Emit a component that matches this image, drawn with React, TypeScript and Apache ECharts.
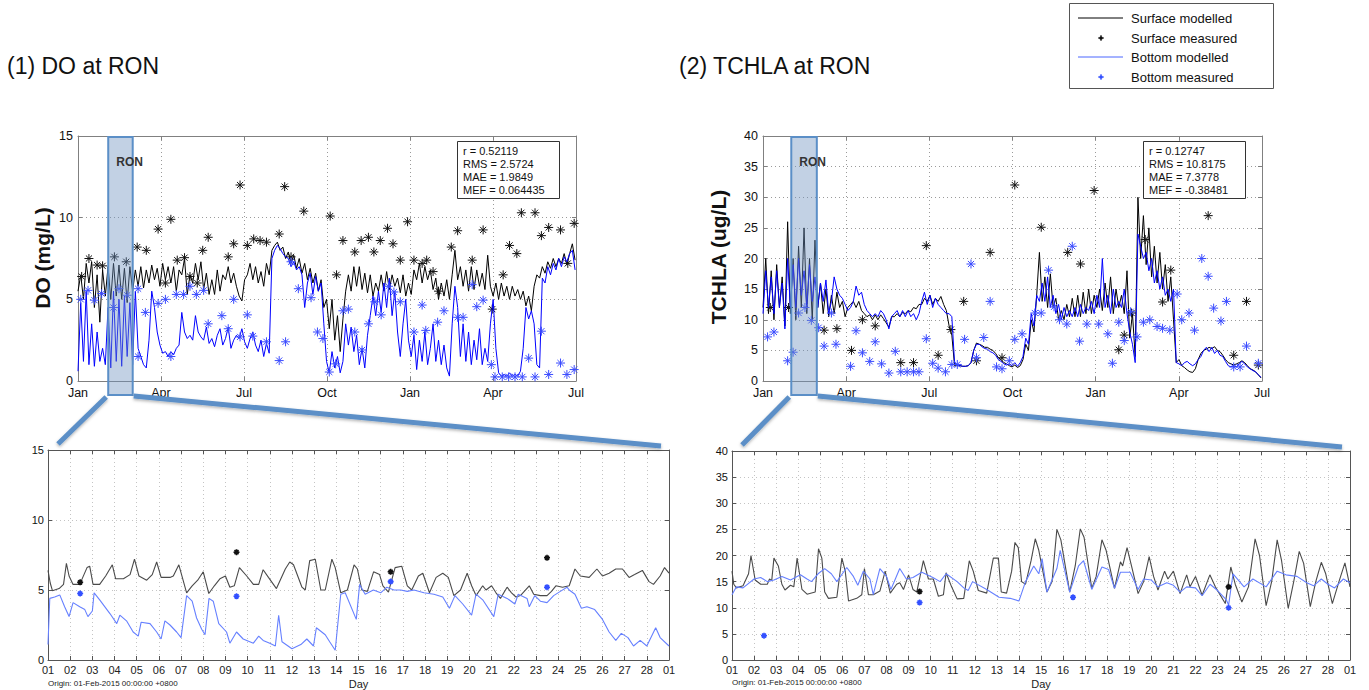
import React, { useEffect, useRef } from 'react';
import * as echarts from 'echarts';

// ---------------- DATA ----------------
// Top panels: day index from 01-Jan-2015 (one value every TOP_STEP days) to 01-Jul-2016
const TOP_SPAN_DAYS = 547;
const TOP_STEP = 3;
const TOP_TICKS = ['Jan', 'Apr', 'Jul', 'Oct', 'Jan', 'Apr', 'Jul'];
const RON_START_DAY = 31; // 01-Feb-2015
const RON_END_DAY = 59; // 01-Mar-2015

const DO_SURF_MODEL = [
  5.5, 6.5, 5.0, 7.2, 6.0, 7.3, 4.5, 6.5, 3.6, 6.8,
  5.2, 7.0, 5.0, 7.2, 5.2, 7.1, 5.0, 6.9, 4.8, 7.0,
  5.5, 6.8, 5.8, 7.0, 5.7, 6.8, 6.0, 7.1, 6.2, 6.9,
  5.8, 7.2, 6.2, 7.0, 6.0, 7.0, 5.5, 6.8, 6.5, 7.5,
  5.3, 6.5, 6.0, 7.2, 6.2, 7.3, 5.6, 6.6, 5.3, 6.2,
  5.3, 6.8, 5.5, 6.5, 6.2, 7.0, 6.0, 6.6, 5.8, 5.2,
  4.9, 6.2, 6.5, 7.2, 6.2, 7.0, 6.0, 6.7, 5.8, 7.2,
  6.5, 8.0, 8.3, 8.5, 8.0, 8.2, 7.5, 7.9, 7.2, 7.7,
  6.9, 7.5, 6.6, 7.2, 6.2, 6.9, 6.0, 6.6, 5.5, 6.2,
  4.5, 5.0, 3.2, 5.0, 2.5, 4.0, 1.8, 3.8, 5.5, 6.5,
  5.5, 7.0, 5.8, 7.0, 5.6, 6.6, 5.4, 6.5, 5.2, 6.0,
  5.5, 6.5, 5.5, 6.7, 5.6, 6.5, 5.8, 6.3, 5.4, 6.5,
  5.2, 6.0, 5.3, 6.8, 6.2, 7.2, 6.0, 7.0, 6.2, 6.8,
  5.6, 6.3, 5.0, 6.0, 5.2, 6.2, 5.0, 6.5, 8.0, 6.2,
  7.0, 5.8, 6.8, 5.5, 7.0, 5.6, 6.8, 5.8, 6.6, 5.6,
  7.7, 5.8, 5.2, 6.0, 5.0, 6.0, 5.2, 5.8, 5.0, 5.8,
  5.2, 5.6, 5.0, 5.5, 4.6, 5.2, 4.3, 5.8, 6.5, 6.3,
  7.0, 6.6, 7.3, 6.9, 7.5, 7.0, 7.5, 7.2, 7.8, 7.1,
  7.8, 8.4, 7.4,
];

const DO_BOT_MODEL = [
  0.6, 4.8, 1.2, 5.5, 1.0, 3.5, 0.9, 3.0, 1.2, 2.0,
  1.0, 4.5, 0.8, 5.5, 1.2, 5.0, 0.9, 5.2, 1.5, 4.8,
  1.0, 5.5, 2.0, 1.5, 1.0, 0.8, 2.5, 5.5, 4.5, 3.0,
  2.2, 1.7, 1.8, 1.5, 1.8, 1.6, 2.0, 2.2, 4.2, 3.0,
  2.6, 2.8, 2.5, 4.0, 3.0, 2.7, 2.5, 3.3, 2.3, 2.6,
  2.1, 2.8, 3.2, 2.2, 2.6, 3.3, 2.0, 2.5, 2.8, 2.6,
  3.2, 2.4, 2.0, 2.6, 3.0, 2.2, 1.8, 2.5, 1.5, 2.3,
  1.7, 7.5, 8.0, 8.3, 8.1, 7.8, 7.6, 7.5, 7.0, 7.3,
  6.8, 7.0, 6.5, 4.5, 6.0, 6.6, 5.3, 6.4, 5.5, 6.0,
  3.5, 1.2, 0.5, 1.8, 0.8, 1.5, 0.5, 1.2, 3.5, 2.2,
  3.3, 1.8, 2.8, 1.0, 2.0, 0.8, 2.8, 4.0, 5.2, 4.0,
  5.5, 4.2, 6.0, 4.5, 6.3, 4.0, 5.5, 3.0, 1.5, 3.5,
  5.0, 2.5, 1.5, 2.8, 0.7, 2.5, 1.2, 3.0, 1.0, 2.0,
  3.5, 1.2, 2.5, 1.0, 2.2, 0.8, 0.3, 3.5, 5.8, 4.5,
  1.5, 3.5, 1.2, 3.0, 1.0, 2.5, 1.3, 3.2, 1.0, 2.0,
  1.2, 3.5, 5.0, 2.0, 0.5, 0.3, 0.4, 0.3, 0.5, 0.3,
  0.4, 0.3, 0.6, 2.0, 4.5, 3.8, 4.3, 3.5, 1.0, 0.8,
  6.3, 6.0, 7.0, 6.5, 7.2, 6.8, 7.5, 7.0, 7.6, 7.3,
  7.8, 8.0, 6.8,
];

const TCHLA_SURF_MODEL = [
  12, 20, 11, 18, 10, 19, 12, 17, 9, 26,
  11, 20, 10, 22, 12, 25, 11, 20, 10, 23,
  12, 16, 11, 15, 10.5, 14, 11, 14.5, 12, 13,
  10.5, 12, 12.5, 13, 12, 13, 11.5, 11, 10.5, 10.8,
  10, 10.8, 10, 10.8, 10.2, 9.5, 8.8, 10.5, 10.5, 11,
  10.5, 11.2, 11, 11.5, 11.3, 12, 11.8, 12.5, 12.5, 13.5,
  13, 14, 12.5, 13.5, 13, 13.8, 12.5, 11.5, 9, 7.5,
  2.5, 2.5, 2.5, 2.4, 2.4, 2.5, 3, 5, 6.2, 6,
  5.8, 5.5, 5.5, 5.2, 5.0, 4.5, 3.8, 3.5, 3.0, 2.8,
  2.5, 2.3, 2.6, 2.2, 2.5, 3.5, 6, 5, 10, 8,
  14, 21, 13, 17, 12, 17.5, 12, 13.5, 10, 11.5,
  10, 12.5, 10.5, 13.5, 10.5, 14, 10.5, 14.5, 11, 15,
  11, 14, 12, 15, 11.5, 16, 12, 17, 11, 15,
  12, 14, 11, 18, 7, 11, 4, 30, 20, 27,
  19, 25, 17, 22, 16, 21, 15, 19, 13, 17,
  10, 3, 3.5, 2.5, 2.2, 1.8, 1.5, 1.4, 2, 3.5,
  4.5, 5, 5.2, 5.5, 5.3, 5.6, 5, 4.8, 4.2, 3.5,
  3, 2.8, 2.6, 2.8, 3.0, 3.3, 3.0, 2.5, 2.0, 1.8,
  1.5, 1.0, 0.5,
];

const TCHLA_BOT_MODEL = [
  11, 18, 12, 17, 11, 18, 12, 16, 8.5, 20,
  12, 19, 12, 20, 14, 18, 12, 19, 13, 17,
  12, 16, 13, 16.5, 11, 13, 17, 15, 14, 13.5,
  12.5, 11.5, 12, 13, 15.5, 14, 14.5, 12.5, 11.5, 11,
  10.5, 11, 10.5, 11.5, 11, 10, 8.5, 10.5, 11, 11.5,
  10.5, 11.5, 10.5, 11.5, 10.5, 11, 10, 11, 13, 14.5,
  12.5, 14, 12, 13.5, 12.5, 12, 11.5, 11, 11, 10.5,
  3, 2.5, 2.5, 2.4, 2.4, 2.5, 3, 5, 6, 6,
  5.6, 5.3, 5.2, 4.8, 4.6, 4.2, 3.5, 3.2, 2.8, 2.6,
  2.8, 2.5, 3, 2.4, 3, 4, 7, 6, 11, 9,
  14, 13, 16, 13, 17, 12, 14, 11, 12.5, 10,
  12, 10.5, 11.5, 10.5, 12, 10.5, 12.5, 11, 12, 11.5,
  13, 11, 14, 12, 20, 12, 14, 11, 15, 12,
  13, 12, 15, 11, 8, 6, 3, 24, 22, 20,
  21, 18, 20, 16, 18, 15, 17, 14, 15, 13,
  15, 3, 2.8, 2.5, 3.0, 3.2, 2.8, 2.5, 2.8, 3.5,
  4.0, 5.0, 5.5, 4.8, 5.5, 4.5, 5.0, 4.2, 4.0, 3.2,
  2.5, 2.3, 2.5, 2.3, 2.8, 3.2, 2.8, 2.3, 2.0, 1.7,
  1.5, 1.0, 0.6,
];

// measured points [day, value]
const DO_SURF_MEAS = [
  [4, 6.4], [12, 7.5], [21, 7.1], [27, 7.05], [40, 7.6], [53, 7.3], [65, 8.2], [75, 8.0], [88, 9.3], [96, 6.0],
  [102, 9.9], [109, 7.4], [117, 7.55], [123, 6.4], [131, 6.0], [137, 8.0], [143, 8.8], [165, 7.6], [171, 8.4], [178, 12.0],
  [186, 8.3], [193, 8.7], [200, 8.6], [207, 8.5], [221, 9.0], [227, 11.9], [234, 7.6], [248, 10.4], [277, 10.1], [284, 6.5],
  [291, 8.6], [304, 7.9], [311, 8.6], [319, 8.8], [325, 7.9], [332, 8.6], [340, 9.35], [346, 8.4], [354, 7.4], [362, 9.75],
  [369, 7.4], [378, 7.2], [383, 7.4], [390, 6.7], [396, 5.5], [410, 8.2], [417, 9.2], [433, 7.4], [445, 9.25], [455, 4.4],
  [467, 6.5], [474, 8.3], [482, 7.8], [487, 10.3], [502, 10.3], [509, 8.9], [517, 9.4], [530, 9.25], [538, 7.2], [545, 9.65],
];
const DO_BOT_MEAS = [
  [3, 5.0], [11, 5.55], [18, 4.95], [26, 5.35], [39, 4.5], [45, 5.65], [54, 5.25], [66, 5.65], [66, 1.5], [74, 4.2],
  [88, 4.75], [96, 5.0], [102, 1.5], [108, 5.3], [116, 5.3], [123, 5.8], [130, 5.3], [138, 5.55], [143, 3.5], [158, 4.0],
  [165, 3.2], [171, 5.0], [178, 2.7], [186, 4.05], [192, 2.75], [207, 2.4], [221, 1.25], [228, 2.4], [234, 7.3], [242, 5.65],
  [256, 5.1], [263, 3.0], [269, 2.6], [276, 0.55], [283, 1.05], [291, 4.3], [297, 4.4], [304, 3.0], [312, 1.9], [319, 3.5],
  [326, 4.85], [333, 4.05], [341, 5.8], [347, 5.45], [354, 4.85], [369, 3.0], [378, 4.65], [382, 3.1], [395, 3.6], [402, 4.3],
  [417, 3.9], [423, 3.9], [433, 5.9], [438, 4.55], [445, 4.95], [454, 1.0], [458, 0.25], [466, 0.25], [473, 0.25], [480, 0.25],
  [488, 0.25], [495, 1.4], [502, 0.25], [509, 3.05], [517, 0.4], [530, 1.1], [537, 0.4], [545, 0.7],
];
const TCHLA_SURF_MEAS = [
  [8, 12.0], [28, 12.0], [67, 8.3], [81, 8.55], [97, 5.0], [109, 10.0], [123, 9.0], [151, 3.0], [165, 3.0], [179, 22.1],
  [192, 4.2], [206, 8.4], [220, 13.0], [234, 3.3], [249, 21.0], [262, 3.8], [276, 32.0], [305, 25.1], [334, 21.0], [348, 19.1],
  [363, 31.1], [390, 5.1], [396, 7.5], [404, 11.1], [419, 23.1], [438, 12.9], [447, 18.1], [488, 27.0], [516, 4.2], [530, 13.0],
  [543, 2.6],
];
const TCHLA_BOT_MEAS = [
  [5, 7.2], [12, 8.0], [27, 3.3], [33, 4.7], [39, 11.1], [46, 12.0], [53, 9.9], [61, 8.7], [67, 5.7], [75, 11.1],
  [80, 6.0], [96, 2.4], [102, 8.2], [109, 4.6], [117, 3.2], [123, 6.4], [130, 2.8], [138, 1.3], [145, 4.85], [151, 1.5],
  [158, 1.5], [165, 1.5], [171, 1.5], [179, 6.9], [186, 2.9], [192, 2.1], [200, 1.5], [207, 2.7], [213, 2.7], [221, 6.8],
  [228, 19.1], [234, 3.8], [242, 7.1], [249, 13.0], [256, 2.3], [262, 2.0], [270, 3.3], [276, 6.8], [284, 7.7], [298, 11.1],
  [305, 11.1], [313, 18.1], [319, 12.1], [325, 10.0], [333, 9.3], [339, 22.0], [347, 6.5], [355, 9.3], [368, 9.3], [378, 7.7],
  [383, 2.9], [390, 9.6], [396, 6.6], [403, 11.3], [410, 7.2], [417, 9.6], [424, 10.0], [432, 8.9], [438, 8.6], [446, 8.3],
  [454, 14.2], [459, 10.0], [467, 11.1], [473, 8.3], [481, 20.0], [488, 17.1], [494, 11.9], [502, 9.8], [508, 13.0], [516, 2.3],
  [523, 2.3], [530, 5.7], [543, 2.9],
];

// Bottom panels: [day offset from 01-Feb-2015, value]
const FEB_DAYS = 28;
const DO_FEB_SURF = [
  [0, 6.4], [0.1, 5.5], [0.2, 4.95], [0.5, 5.1], [0.7, 5.4], [0.83, 6.9], [0.95, 6.0], [1.13, 5.4], [1.43, 5.4], [1.76, 6.6],
  [1.88, 6.7], [2.03, 5.4], [2.33, 5.4], [2.6, 6.0], [2.9, 6.8], [3.05, 5.8], [3.4, 5.8], [3.7, 6.1], [3.9, 7.2], [4.1, 6.0],
  [4.45, 5.7], [4.7, 6.1], [4.9, 7.0], [5.1, 5.9], [5.5, 5.9], [5.65, 6.0], [5.9, 6.8], [6.25, 4.8], [6.5, 5.3], [6.75, 5.7],
  [7.0, 6.3], [7.25, 4.75], [7.5, 5.3], [7.75, 5.8], [8.0, 6.0], [8.2, 5.2], [8.4, 5.3], [8.63, 6.6], [8.96, 6.0], [9.26, 5.4],
  [9.5, 5.4], [9.7, 6.45], [9.94, 5.9], [10.3, 5.1], [10.7, 6.5], [10.9, 7.0], [11.07, 6.8], [11.45, 5.2], [11.6, 5.0], [11.8, 7.1],
  [12.05, 7.2], [12.3, 5.0], [12.5, 5.0], [12.8, 7.2], [12.95, 6.6], [13.2, 4.8], [13.5, 5.0], [13.8, 6.8], [13.95, 6.5], [14.15, 5.0],
  [14.4, 4.9], [14.68, 6.3], [14.95, 6.1], [15.1, 5.3], [15.35, 4.85], [15.65, 6.6], [15.95, 6.7], [16.2, 5.3], [16.4, 5.0], [16.7, 6.0],
  [16.9, 6.2], [17.2, 4.8], [17.5, 5.9], [17.8, 6.2], [18.05, 5.9], [18.3, 4.6], [18.6, 5.0], [18.9, 6.2], [19.1, 5.3], [19.3, 4.6],
  [19.6, 5.3], [19.75, 5.0], [20.0, 5.3], [20.2, 4.8], [20.4, 4.4], [20.7, 5.2], [20.9, 4.8], [21.1, 4.5], [21.3, 4.6], [21.7, 5.3],
  [21.9, 4.7], [22.2, 4.6], [22.5, 4.6], [22.7, 4.9], [22.9, 5.3], [23.2, 5.2], [23.5, 5.3], [23.76, 6.5], [24.0, 6.0], [24.4, 5.9],
  [24.75, 6.5], [25.0, 6.0], [25.3, 6.2], [25.6, 6.5], [25.9, 6.5], [26.2, 5.9], [26.45, 6.1], [26.8, 6.4], [27.1, 5.6], [27.3, 5.4],
  [27.6, 6.0], [27.8, 6.6], [28.0, 6.2],
];
const DO_FEB_BOT = [
  [0, 1.1], [0.08, 4.4], [0.3, 4.5], [0.53, 4.65], [0.75, 3.8], [0.95, 3.1], [1.13, 4.1], [1.43, 3.8], [1.66, 3.6], [1.8, 3.1],
  [2.0, 3.5], [2.08, 4.8], [2.33, 4.3], [2.8, 3.3], [3.1, 2.6], [3.24, 3.2], [3.54, 2.8], [3.84, 2.0], [4.07, 1.7], [4.2, 2.7],
  [4.6, 2.6], [4.9, 2.0], [5.1, 1.5], [5.27, 2.8], [5.5, 2.5], [5.8, 2.0], [6.0, 1.6], [6.25, 4.6], [6.5, 4.2], [6.7, 3.0],
  [6.93, 2.2], [7.08, 1.8], [7.26, 4.4], [7.45, 4.2], [7.7, 2.6], [8.05, 2.0], [8.2, 1.2], [8.5, 2.0], [8.8, 1.5], [9.26, 1.2],
  [9.5, 1.7], [9.7, 1.4], [10.0, 1.2], [10.25, 1.0], [10.4, 3.2], [10.55, 1.3], [11.0, 0.8], [11.4, 1.1], [11.67, 1.5], [11.97, 1.0],
  [12.1, 2.3], [12.5, 1.8], [12.7, 1.3], [12.95, 0.7], [13.2, 4.7], [13.4, 4.8], [13.9, 2.9], [14.05, 5.4], [14.3, 4.7], [14.67, 5.0],
  [15.0, 4.8], [15.28, 5.2], [15.6, 5.0], [15.9, 5.0], [16.2, 4.9], [16.5, 5.0], [16.95, 4.8], [17.4, 4.7], [17.8, 4.5], [18.1, 3.7],
  [18.35, 4.6], [18.7, 4.0], [19.1, 3.2], [19.3, 4.7], [19.6, 4.3], [20.1, 3.1], [20.3, 4.7], [20.7, 4.4], [21.05, 4.0], [21.2, 4.7],
  [21.6, 4.4], [21.7, 3.8], [21.95, 4.6], [22.2, 4.2], [22.5, 4.1], [22.8, 4.6], [23.1, 4.9], [23.4, 5.2], [23.5, 5.0], [23.76, 4.7],
  [24.05, 3.7], [24.3, 3.8], [24.65, 3.6], [25.0, 2.9], [25.3, 2.0], [25.6, 1.4], [25.85, 1.9], [26.15, 1.6], [26.4, 1.0], [26.7, 1.4],
  [27.0, 1.0], [27.4, 2.3], [27.6, 1.6], [28.0, 1.0],
];
const TCHLA_FEB_SURF = [
  [0, 17], [0.08, 14.5], [0.2, 13.8], [0.5, 14.2], [0.75, 16.5], [0.86, 20], [1.05, 15.3], [1.3, 14.5], [1.6, 14.5], [1.7, 15.5],
  [1.8, 15.2], [1.9, 19.5], [2.1, 18], [2.26, 14.5], [2.4, 13.4], [2.65, 14.3], [2.8, 14], [2.95, 19.5], [3.17, 13.5], [3.4, 12.6],
  [3.77, 13], [3.92, 21.3], [4.07, 19.5], [4.2, 13], [4.37, 11.8], [4.75, 12], [4.98, 19.5], [5.13, 17], [5.28, 11.3], [5.65, 11.8],
  [5.88, 12.5], [6.0, 17.5], [6.18, 12.5], [6.4, 12.5], [6.7, 13.2], [6.94, 17], [7.17, 12.8], [7.46, 14.5], [7.6, 14.8], [7.77, 13.5],
  [8.0, 16.3], [8.2, 13.5], [8.37, 13], [8.67, 19], [8.9, 15.5], [9.12, 15.5], [9.35, 12.2], [9.58, 12.5], [9.7, 16.7], [9.95, 14],
  [10.2, 11.7], [10.5, 11.8], [10.75, 19], [10.93, 17], [11.16, 13.3], [11.54, 12.8], [11.84, 19.5], [12.07, 19.5], [12.2, 13], [12.44, 12.8],
  [12.67, 17], [12.82, 22.5], [12.97, 21.5], [13.12, 15], [13.3, 14.5], [13.55, 19], [13.74, 23.2], [13.9, 21], [14.27, 13], [14.5, 15],
  [14.72, 25], [14.9, 23], [15.3, 13], [15.55, 18], [15.78, 25.1], [15.95, 23.5], [16.3, 13.7], [16.5, 16], [16.76, 23], [16.95, 21],
  [17.33, 13.7], [17.6, 18.8], [17.7, 18], [17.9, 21.5], [18.1, 18], [18.4, 12.7], [18.65, 15], [18.9, 19.8], [19.1, 16], [19.3, 13.4],
  [19.6, 17], [19.75, 15.5], [20.0, 17], [20.3, 12.7], [20.6, 16.3], [20.75, 14], [21.0, 16], [21.3, 12.4], [21.65, 16.3], [21.9, 14],
  [22.35, 10.8], [22.6, 17.8], [22.8, 14.5], [23.1, 11.1], [23.4, 14], [23.7, 23.2], [23.9, 20], [24.2, 10.4], [24.45, 15], [24.7, 23],
  [24.9, 19], [25.2, 9.9], [25.45, 15], [25.7, 20.8], [25.9, 18.5], [26.2, 10.2], [26.45, 15], [26.7, 18.7], [26.9, 16.5], [27.2, 10.8],
  [27.5, 15], [27.77, 18.6], [27.9, 16], [28.0, 14],
];
const TCHLA_FEB_BOT = [
  [0, 12.5], [0.2, 14], [0.5, 13.8], [1.0, 15.5], [1.3, 15.8], [1.6, 15], [1.9, 15.3], [2.26, 16], [2.65, 15.3], [3.1, 16.3],
  [3.4, 15.5], [3.6, 15], [3.9, 16.5], [4.2, 17.5], [4.5, 16.5], [4.75, 15], [5.0, 16.5], [5.2, 17.7], [5.5, 16], [5.7, 14.3],
  [5.95, 17], [6.25, 15.5], [6.4, 12.5], [6.7, 17.5], [7.0, 16], [7.2, 13.5], [7.6, 17.5], [7.9, 15.5], [8.2, 15.8], [8.6, 16.8],
  [9.1, 15.8], [9.43, 15], [9.7, 16.5], [10.2, 15], [10.5, 13.8], [10.7, 13.3], [10.9, 15], [11.54, 13.5], [12.1, 12], [12.6, 11.8],
  [13.0, 11.3], [13.1, 12.5], [13.3, 15], [13.67, 18], [13.9, 16.5], [14.05, 19.4], [14.27, 13], [14.72, 17.5], [14.87, 21], [15.3, 13],
  [15.7, 18], [15.93, 19], [16.3, 13.5], [16.76, 17.8], [17.06, 17.3], [17.33, 13.7], [17.6, 16.8], [18.04, 16.8], [18.4, 13.5], [18.65, 15.5],
  [19.0, 15.3], [19.3, 14], [19.7, 14.8], [20.0, 14.3], [20.3, 13], [20.6, 14], [21.0, 13.8], [21.3, 12.3], [21.66, 14.5], [22.0, 13.3],
  [22.4, 11.5], [22.5, 10.5], [22.7, 16.5], [23.2, 14], [23.6, 15.5], [24.2, 14], [24.7, 17], [25.1, 16.3], [25.6, 16], [26.04, 14.8],
  [26.35, 14.2], [26.7, 15.5], [27.0, 14.5], [27.3, 13.8], [27.7, 15.5], [28.0, 14.8],
];
const DO_FEB_SURF_MEAS = [[1.45, 5.55], [8.5, 7.7], [15.45, 6.3], [22.5, 7.3]];
const DO_FEB_BOT_MEAS = [[1.45, 4.75], [8.5, 4.55], [15.45, 5.6], [22.5, 5.2]];
const TCHLA_FEB_SURF_MEAS = [[8.5, 13.1], [22.5, 14.0]];
const TCHLA_FEB_BOT_MEAS = [[1.45, 4.65], [8.5, 11.0], [15.45, 12.0], [22.5, 10.0]];

const DO_STATS = ['r = 0.52119', 'RMS = 2.5724', 'MAE = 1.9849', 'MEF = 0.064435'];
const TCHLA_STATS = ['r = 0.12747', 'RMS = 10.8175', 'MAE = 7.3778', 'MEF = -0.38481'];
const LEGEND_ITEMS = ['Surface modelled', 'Surface measured', 'Bottom modelled', 'Bottom measured'];

// ---------------- STYLE ----------------
const FONT = "'Liberation Sans', Arial, Helvetica, sans-serif";
const C_SURF = '#000000';
const C_BOT = '#0000ff';
const C_BOT_MEAS = '#3a4bff';
const C_SURF_LIGHT = '#4a4a4a';
const C_BOT_LIGHT = '#6680ff';
const C_HL = '#5b8fc7';
const STAR = 'path://M5,0L5,10M0,5L10,5M1.6,1.6L8.4,8.4M1.6,8.4L8.4,1.6';

const GRIDS = [
  { left: 78, top: 136, width: 498, height: 245 },
  { left: 763, top: 136, width: 499, height: 245 },
  { left: 48, top: 450, width: 621, height: 211 },
  { left: 732, top: 451, width: 618, height: 209 },
];

const TOP_INTERVAL = TOP_SPAN_DAYS / 6;

function topSeries(values: number[]) {
  return values.map((v, i) => [i * TOP_STEP, v]);
}

function buildOption() {
  const axisLineTop = { show: true, onZero: false, lineStyle: { color: '#808080', width: 1 } };
  const axisLineBot = { show: true, onZero: false, lineStyle: { color: '#555', width: 1 } };
  const dotted = (c: string) => ({ show: true, lineStyle: { type: [1, 3], color: c, width: 1 } });

  const xAxes: any[] = [];
  const yAxes: any[] = [];
  // main x axes
  [0, 1].forEach((g) => {
    xAxes.push({
      type: 'value', gridIndex: g, min: 0, max: TOP_SPAN_DAYS, interval: TOP_INTERVAL, position: 'bottom',
      axisLine: axisLineTop,
      axisTick: { show: true, inside: true, length: 4, lineStyle: { color: '#808080' } },
      axisLabel: {
        formatter: (v: number) => TOP_TICKS[Math.round(v / TOP_INTERVAL)] || '',
        fontSize: 12.5, color: '#111', margin: 5, fontFamily: FONT,
      },
      splitLine: dotted('#9a9a9a'),
    });
  });
  [2, 3].forEach((g) => {
    xAxes.push({
      type: 'value', gridIndex: g, min: 0, max: FEB_DAYS, interval: 1, position: 'bottom',
      axisLine: axisLineBot,
      axisTick: { show: true, inside: true, length: 4, lineStyle: { color: '#555' } },
      axisLabel: {
        formatter: (v: number) => (v >= FEB_DAYS ? '01' : String(v + 1).padStart(2, '0')),
        fontSize: 11, color: '#222', margin: 4, fontFamily: FONT,
      },
      splitLine: dotted('#c4c4c4'),
      name: 'Day', nameLocation: 'middle', nameGap: 18,
      nameTextStyle: { fontSize: 11, color: '#222', fontFamily: FONT },
    });
  });
  // mirror x axes (top)
  [0, 1].forEach((g) => {
    xAxes.push({
      type: 'value', gridIndex: g, min: 0, max: TOP_SPAN_DAYS, interval: TOP_INTERVAL, position: 'top',
      axisLine: axisLineTop, axisTick: { show: true, inside: true, length: 4, lineStyle: { color: '#808080' } },
      axisLabel: { show: false }, splitLine: { show: false },
    });
  });
  [2, 3].forEach((g) => {
    xAxes.push({
      type: 'value', gridIndex: g, min: 0, max: FEB_DAYS, interval: 1, position: 'top',
      axisLine: axisLineBot, axisTick: { show: true, inside: true, length: 4, lineStyle: { color: '#555' } },
      axisLabel: { show: false }, splitLine: { show: false },
    });
  });

  const yMax = [15, 40, 15, 40];
  // main y axes
  [0, 1, 2, 3].forEach((g) => {
    const top = g < 2;
    yAxes.push({
      type: 'value', gridIndex: g, min: 0, max: yMax[g], interval: 5, position: 'left',
      axisLine: top ? axisLineTop : axisLineBot,
      axisTick: { show: true, inside: true, length: 4, lineStyle: { color: top ? '#808080' : '#555' } },
      axisLabel: { fontSize: top ? 12.5 : 11, color: '#111', margin: top ? 5 : 4, fontFamily: FONT },
      splitLine: dotted(top ? '#9a9a9a' : '#c4c4c4'),
    });
  });
  [0, 1, 2, 3].forEach((g) => {
    const top = g < 2;
    yAxes.push({
      type: 'value', gridIndex: g, min: 0, max: yMax[g], interval: 5, position: 'right',
      axisLine: top ? axisLineTop : axisLineBot,
      axisTick: { show: true, inside: true, length: 4, lineStyle: { color: top ? '#808080' : '#555' } },
      axisLabel: { show: false }, splitLine: { show: false },
    });
  });

  const line = (g: number, data: any[], color: string, width = 1, z = 2) => ({
    type: 'line', xAxisIndex: g, yAxisIndex: g, data, showSymbol: false, symbol: 'none',
    lineStyle: { color, width }, itemStyle: { color }, silent: true, z, sampling: undefined,
  });
  const stars = (g: number, data: any[], color: string, size: number, bw: number, z = 3) => ({
    type: 'scatter', xAxisIndex: g, yAxisIndex: g, data, symbol: STAR, symbolSize: size,
    itemStyle: { color: 'rgba(0,0,0,0)', borderColor: color, borderWidth: bw, opacity: 1 }, silent: true, z,
  });

  const series = [
    line(0, topSeries(DO_SURF_MODEL), C_SURF, 1, 2),
    stars(0, DO_SURF_MEAS, '#111', 9, 1, 3),
    line(0, topSeries(DO_BOT_MODEL), C_BOT, 1, 4),
    stars(0, DO_BOT_MEAS, C_BOT_MEAS, 9, 1, 5),

    line(1, topSeries(TCHLA_SURF_MODEL), C_SURF, 1, 2),
    stars(1, TCHLA_SURF_MEAS, '#111', 9, 1, 3),
    line(1, topSeries(TCHLA_BOT_MODEL), C_BOT, 1, 4),
    stars(1, TCHLA_BOT_MEAS, C_BOT_MEAS, 9, 1, 5),

    line(2, DO_FEB_SURF, C_SURF_LIGHT, 1.1, 2),
    line(2, DO_FEB_BOT, C_BOT_LIGHT, 1.1, 3),
    stars(2, DO_FEB_SURF_MEAS, '#111', 6, 1.6, 4),
    stars(2, DO_FEB_BOT_MEAS, '#3350ff', 6, 1.6, 5),

    line(3, TCHLA_FEB_SURF, C_SURF_LIGHT, 1.1, 2),
    line(3, TCHLA_FEB_BOT, C_BOT_LIGHT, 1.1, 3),
    stars(3, TCHLA_FEB_SURF_MEAS, '#111', 6, 1.6, 4),
    stars(3, TCHLA_FEB_BOT_MEAS, '#3350ff', 6, 1.6, 5),
  ];

  return {
    animation: false,
    backgroundColor: '#ffffff',
    textStyle: { fontFamily: FONT },
    grid: GRIDS.map((g) => ({ ...g, containLabel: false })),
    xAxis: xAxes,
    yAxis: yAxes,
    series,
  };
}

function txt(x: number, y: number, text: string, size: number, extra: any = {}, elExtra: any = {}) {
  return {
    type: 'text', x, y, z: 120, silent: true, ...elExtra,
    style: {
      text, fill: '#111', fontSize: size, fontFamily: FONT,
      align: 'left', verticalAlign: 'middle', textAlign: 'left', textVerticalAlign: 'middle', ...extra,
    },
  };
}

function buildGraphics(chart: any) {
  const els: any[] = [];
  // titles
  els.push(txt(7, 66, '(1) DO at RON', 23));
  els.push(txt(679, 66, '(2) TCHLA at RON', 23));

  // y axis names
  els.push(txt(42, 258, 'DO (mg/L)', 21, { fontWeight: 'bold', align: 'center', textAlign: 'center' }, { rotation: Math.PI / 2 }));
  els.push(txt(718, 257, 'TCHLA (ug/L)', 21, { fontWeight: 'bold', align: 'center', textAlign: 'center' }, { rotation: Math.PI / 2 }));

  // stats boxes
  const statBox = (x: number, lines: string[]) => {
    els.push({ type: 'rect', z: 110, silent: true, shape: { x: x + 0.5, y: 141.5, width: 102, height: 57 }, style: { fill: '#fff', stroke: '#333', lineWidth: 1 } });
    lines.forEach((l, i) => els.push(txt(x + 6, 151 + i * 13, l, 11)));
  };
  statBox(457, DO_STATS);
  statBox(1143, TCHLA_STATS);

  // origin notes
  els.push(txt(GRIDS[2].left, 683, 'Origin: 01-Feb-2015 00:00:00 +0800', 8, { fill: '#222' }));
  els.push(txt(GRIDS[3].left, 682, 'Origin: 01-Feb-2015 00:00:00 +0800', 8, { fill: '#222' }));

  // RON highlights + connectors
  [0, 1].forEach((g) => {
    const p0 = chart.convertToPixel({ gridIndex: g }, [RON_START_DAY, 0]);
    const p1 = chart.convertToPixel({ gridIndex: g }, [RON_END_DAY, 0]);
    const x0 = p0[0] + (g === 0 ? 2 : 0);
    const x1 = p1[0] + (g === 0 ? 1 : 0);
    const top = GRIDS[g].top + 1;
    const bottom = GRIDS[g].top + GRIDS[g].height + 14;
    els.push({
      type: 'rect', z: 100, silent: true,
      shape: { x: x0, y: top, width: x1 - x0, height: bottom - top },
      style: { fill: 'rgba(110,145,190,0.42)', stroke: C_HL, lineWidth: 2 },
    });
    els.push(txt(x0 + 8, 162, 'RON', 12, { fontWeight: 'bold', fill: '#333' }));
    const tg = GRIDS[g + 2];
    const lineStyle = { stroke: C_HL, lineWidth: 5, shadowBlur: 3, shadowColor: 'rgba(0,0,0,0.3)', shadowOffsetY: 1.5 };
    els.push({ type: 'line', z: 101, silent: true, shape: { x1: x0 - 2, y1: bottom + 2, x2: tg.left + 10, y2: tg.top - 6 }, style: lineStyle });
    els.push({ type: 'line', z: 101, silent: true, shape: { x1: x1 + 1, y1: bottom + 1, x2: tg.left + tg.width - 8, y2: tg.top - 4 }, style: lineStyle });
  });

  // legend
  const lx = 1069.5, ly = 3.5;
  els.push({ type: 'rect', z: 110, silent: true, shape: { x: lx, y: ly, width: 204, height: 85 }, style: { fill: '#fff', stroke: '#555', lineWidth: 1 } });
  const rows = [18, 38, 57, 77];
  const colors = [C_SURF, '#111', '#4a66ff', '#3350ff'];
  LEGEND_ITEMS.forEach((name, i) => {
    const y = rows[i];
    if (i % 2 === 0) {
      els.push({ type: 'line', z: 111, silent: true, shape: { x1: 1078, y1: y, x2: 1123, y2: y }, style: { stroke: colors[i], lineWidth: 1 } });
    } else {
      els.push({ type: 'circle', z: 111, silent: true, shape: { cx: 1101, cy: y, r: 1.8 }, style: { fill: colors[i] } });
      els.push({ type: 'line', z: 111, silent: true, shape: { x1: 1098, y1: y, x2: 1104, y2: y }, style: { stroke: colors[i], lineWidth: 1 } });
      els.push({ type: 'line', z: 111, silent: true, shape: { x1: 1101, y1: y - 3, x2: 1101, y2: y + 3 }, style: { stroke: colors[i], lineWidth: 1 } });
    }
    els.push(txt(1131, y, name, 13));
  });
  return els;
}

export default function App() {
  const ref = useRef<HTMLDivElement>(null);
  useEffect(() => {
    document.body.style.margin = '0';
    const chart = echarts.init(ref.current as HTMLDivElement, undefined, { renderer: 'svg' });
    chart.setOption(buildOption() as any);
    chart.setOption({ graphic: { elements: buildGraphics(chart) } } as any);
    return () => chart.dispose();
  }, []);
  return <div ref={ref} style={{ width: 1369, height: 690, background: '#fff' }} />;
}
